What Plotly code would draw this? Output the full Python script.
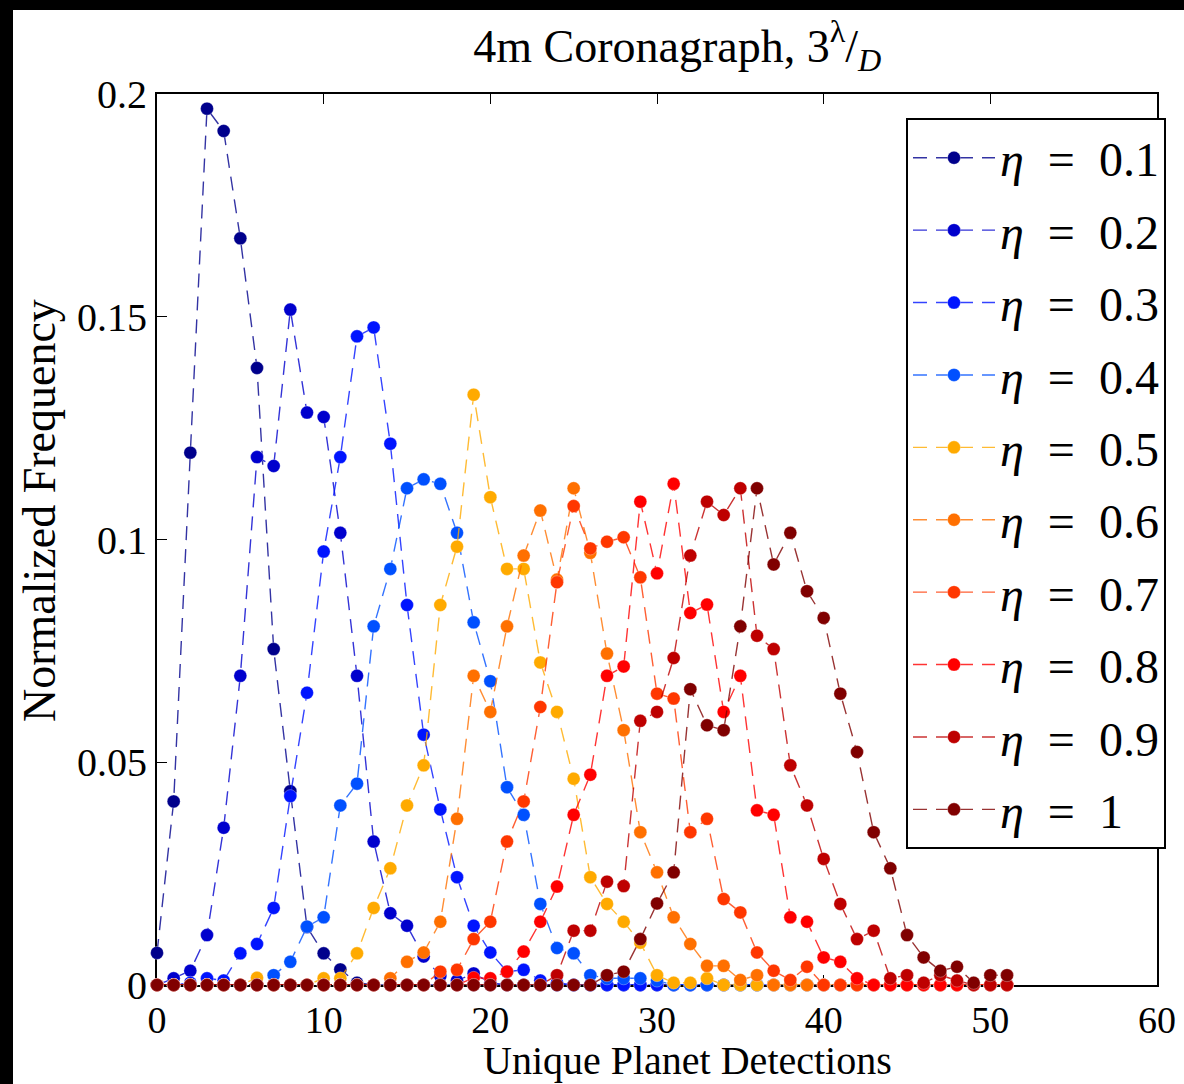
import plotly.graph_objects as go

x_vals = list(range(52))

eta_labels = ["0.1", "0.2", "0.3", "0.4", "0.5", "0.6", "0.7", "0.8", "0.9", "1"]

eta_01 = [0.0072, 0.0412, 0.1195, 0.1967, 0.1917, 0.1676, 0.1385, 0.0754, 0.0435, 0.013,
          0.0071, 0.0035, 0.0005] + [0.0] * 39
eta_02 = [0.0, 0.0015, 0.0032, 0.0112, 0.0353, 0.0694, 0.1185, 0.1165, 0.1516, 0.1285,
          0.1275, 0.1015, 0.0694, 0.0322, 0.0161, 0.0133, 0.0064, 0.002, 0.001, 0.0026,
          0.0005] + [0.0] * 31
eta_03 = [0.0, 0.0, 0.0005, 0.0015, 0.001, 0.0071, 0.0092, 0.0173, 0.0424, 0.0656,
          0.0973, 0.1185, 0.1456, 0.1476, 0.1215, 0.0853, 0.0562, 0.0394, 0.0242, 0.0133,
          0.0073, 0.003, 0.0034, 0.001, 0.0005] + [0.0] * 27
eta_04 = [0.0] * 7 + [0.0022, 0.0052, 0.0131, 0.0152, 0.0403, 0.0452, 0.0805, 0.0934, 0.1115,
          0.1135, 0.1125, 0.1015, 0.0814, 0.0682, 0.0444, 0.0382, 0.0182, 0.0083, 0.0071,
          0.0022, 0.0015, 0.0015, 0.0015, 0.001] + [0.0] * 21
eta_05 = [0.0] * 6 + [0.0016, 0.0, 0.0, 0.0, 0.0015, 0.0015, 0.0071, 0.0173, 0.0262, 0.0403,
          0.0493, 0.0853, 0.0984, 0.1325, 0.1095, 0.0934, 0.0934, 0.0724, 0.0613, 0.0463,
          0.0242, 0.0182, 0.0142, 0.0095, 0.0022, 0.0005, 0.0005, 0.0015] + [0.0] * 18
eta_06 = [0.0] * 14 + [0.0015, 0.0052, 0.0073, 0.0142, 0.0373, 0.0694, 0.0613, 0.0805, 0.0964,
          0.1065, 0.091, 0.1115, 0.097, 0.0744, 0.0572, 0.0343, 0.0253, 0.0152, 0.0092,
          0.0043, 0.0043, 0.0011, 0.0022] + [0.0] * 15
eta_07 = [0.0] * 17 + [0.003, 0.0034, 0.0103, 0.0142, 0.0322, 0.0412, 0.0624, 0.0904, 0.1075,
          0.098, 0.0995, 0.1005, 0.0915, 0.0654, 0.0643, 0.0343, 0.0373, 0.0193, 0.0163,
          0.0073, 0.0032, 0.0011, 0.0041] + [0.0] * 12
eta_08 = [0.0] * 19 + [0.0016, 0.0015, 0.003, 0.0075, 0.0142, 0.0221, 0.0382, 0.0472, 0.0694,
          0.0715, 0.1085, 0.0924, 0.1125, 0.0835, 0.0854, 0.0613, 0.0694, 0.0392, 0.0382,
          0.0152, 0.0142, 0.0062, 0.0052, 0.0015] + [0.0] * 9
eta_09 = [0.0] * 24 + [0.0022, 0.0122, 0.0122, 0.0232, 0.0222, 0.0593, 0.0613, 0.0734, 0.0964,
          0.1085, 0.1055, 0.1115, 0.0784, 0.0754, 0.0493, 0.0403, 0.0283, 0.0182, 0.0103,
          0.0122, 0.0015, 0.0022, 0.0005, 0.0022, 0.001] + [0.0] * 3
eta_10 = [0.0] * 27 + [0.0022, 0.003, 0.0103, 0.0183, 0.0253, 0.0664, 0.0583, 0.0572, 0.0805,
          0.1115, 0.0944, 0.1015, 0.0884, 0.0824, 0.0654, 0.0523, 0.0343, 0.0262, 0.0112,
          0.0062, 0.0032, 0.0041, 0.0005, 0.0022, 0.0022]

series = [eta_01, eta_02, eta_03, eta_04, eta_05, eta_06, eta_07, eta_08, eta_09, eta_10]

colors = [(0, 0, 140), (0, 0, 205), (0, 20, 255), (0, 80, 255), (255, 170, 0),
          (255, 112, 0), (255, 55, 0), (255, 0, 0), (190, 0, 0), (128, 0, 0)]

SERIF = "Liberation Serif, Times New Roman, serif"

fig = go.Figure()
for lab, ys, c in zip(eta_labels, series, colors):
    fig.add_trace(go.Scatter(
        x=x_vals, y=ys, mode="lines+markers",
        name="<i>η</i>\u2002=\u2002" + lab,
        legendgroup=lab,
        line=dict(color="rgba(%d,%d,%d,0.8)" % c, width=1.4, dash="14px,9px"),
        marker=dict(color="rgb(%d,%d,%d)" % c, size=13,
                    line=dict(color="rgba(255,255,255,0.6)", width=0.5)),
        cliponaxis=False,
    ))

fig.update_layout(
    width=1184, height=1084,
    margin=dict(l=157, r=27, t=94, b=99, autoexpand=False),
    paper_bgcolor="black",
    plot_bgcolor="white",
    font=dict(family=SERIF, color="black", size=40),
    showlegend=True,
    title=dict(text="4m Coronagraph, 3<sup>λ</sup>/<sub><i>D</i></sub>",
               x=0.572, xanchor="center", xref="container",
               y=0.958, yanchor="middle", yref="container",
               font=dict(family=SERIF, size=46, color="black")),
    legend=dict(x=0.749, y=0.973, xanchor="left", yanchor="top",
                bgcolor="white", bordercolor="black", borderwidth=2,
                font=dict(family=SERIF, size=48, color="black"),
                itemwidth=82, tracegroupgap=7),
    xaxis=dict(range=[0, 60], tickvals=[0, 10, 20, 30, 40, 50, 60],
               ticks="inside", ticklen=10, tickwidth=1.2, tickcolor="black",
               showline=True, linecolor="black", linewidth=2, mirror="ticks",
               showgrid=False, zeroline=False, layer="below traces",
               tickfont=dict(family=SERIF, size=38, color="black")),
    yaxis=dict(range=[0, 0.2], tickvals=[0, 0.05, 0.1, 0.15, 0.2],
               ticktext=["0", "0.05", "0.1", "0.15", "0.2"],
               ticks="inside", ticklen=10, tickwidth=1.2, tickcolor="black",
               showline=True, linecolor="black", linewidth=2, mirror="ticks",
               showgrid=False, zeroline=False, layer="below traces",
               tickfont=dict(family=SERIF, size=40, color="black")),
    shapes=[dict(type="rect", xref="paper", yref="paper",
                 x0=-0.144, x1=1.1, y0=-0.2, y1=1.0943,
                 fillcolor="white", line=dict(width=0), layer="below")],
    annotations=[
        dict(text="Unique Planet Detections", xref="paper", yref="paper",
             x=0.53, y=-0.0842, xanchor="center", yanchor="middle", showarrow=False,
             font=dict(family=SERIF, size=40, color="black")),
        dict(text="Normalized Frequency", xref="paper", yref="paper",
             x=-0.117, y=0.532, xanchor="center", yanchor="middle", showarrow=False,
             textangle=-90, font=dict(family=SERIF, size=46, color="black")),
    ],
)

fig.write_html("out.html")
